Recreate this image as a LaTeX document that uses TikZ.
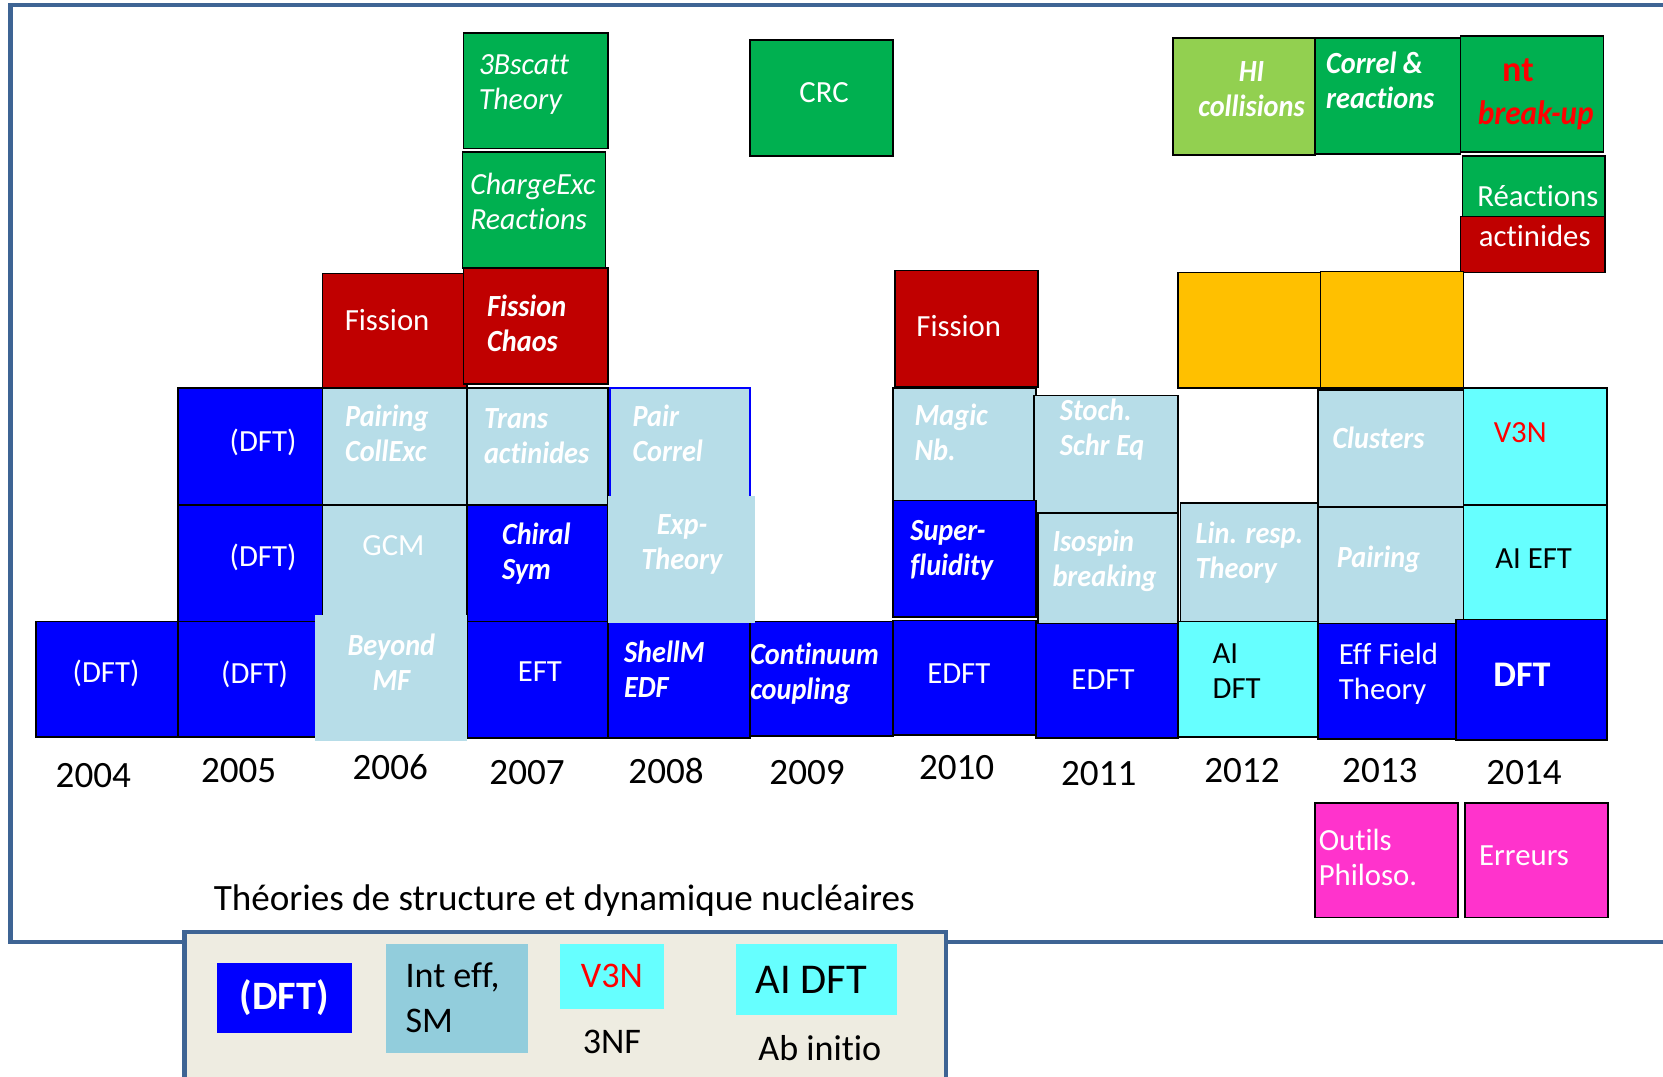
\documentclass[tikz,border=0pt]{standalone}
\usepackage{fontspec}
\setmainfont{Carlito}[Ligatures=NoCommon]
\newfontfamily\bifont{Carlito}[Ligatures=NoCommon, FakeStretch=0.92]
\newfontfamily\itfont{Carlito}[Ligatures=NoCommon, FakeStretch=0.97]
\definecolor{cblue}{HTML}{0000FF}
\definecolor{clb}{HTML}{B7DDE8}
\definecolor{clb2}{HTML}{92CDDC}
\definecolor{ccy}{HTML}{66FFFF}
\definecolor{cred}{HTML}{C00000}
\definecolor{cgreen}{HTML}{00B050}
\definecolor{clgreen}{HTML}{92D050}
\definecolor{corange}{HTML}{FFC000}
\definecolor{cpink}{HTML}{FF33CC}
\definecolor{cframe}{HTML}{3E6494}
\definecolor{clegend}{HTML}{EEECE1}
\definecolor{cred2}{HTML}{FF0000}
\newcommand\boxcell[6]{%
  \pgfmathsetmacro\bcw{(#4-#2)*0.5}%
  \pgfmathsetmacro\bch{(#5-#3)*0.5}%
  \node[#6, minimum width=\bcw pt, minimum height=\bch pt, anchor=north west] (#1) at (#2,#3) {};}
\tikzset{
  box/.style={draw=black, line width=0.8pt, inner sep=0pt, outer sep=0pt},
  nob/.style={draw=none, inner sep=0pt, outer sep=0pt},
  bl/.style={box, fill=cblue},
  lb/.style={box, fill=clb},
  lbn/.style={nob, fill=clb},
  cy/.style={box, fill=ccy},
  rd/.style={box, fill=cred},
  gr/.style={box, fill=cgreen},
  lg/.style={box, fill=clgreen},
  og/.style={box, fill=corange},
  pk/.style={box, fill=cpink},
  tx/.style={inner sep=0pt, text=white, font=\fontsize{14.5}{16.5}\selectfont, align=left},
  txbi/.style={tx, font=\fontsize{14.5}{16.5}\selectfont\bifont\bfseries\itshape},
  txit/.style={tx, font=\fontsize{14.5}{16.5}\selectfont\itfont\itshape},
  yr/.style={inner sep=0pt, font=\fontsize{17.5}{20}\selectfont},
  lgt/.style={inner sep=0pt, font=\fontsize{17}{21}\selectfont, align=left},
}
\begin{document}
\begin{tikzpicture}[x=0.5pt, y=-0.5pt]
\useasboundingbox (0,0) rectangle (1568,1015);
\fill[white] (0,0) rectangle (1568,1015);
% outer frame
\draw[cframe, line width=2pt] (10,5) rectangle (1640,888);
% top row
\boxcell{bsc}{437}{31}{573}{140}{gr}
\boxcell{crc}{707}{38}{842}{147}{gr}
\boxcell{hic}{1106}{36}{1240}{146}{lg}
\boxcell{cor}{1240}{36}{1377}{145}{gr}
\boxcell{ntb}{1377}{34}{1512}{143}{gr}
% row 5
\boxcell{chx}{436}{143}{571}{253}{gr}
\boxcell{rea}{1379}{147}{1513}{204}{gr}
\boxcell{act}{1377}{204}{1513}{257}{rd}
% row 4
\boxcell{fis6}{304}{258}{440}{366}{rd}
\boxcell{fch}{437}{253}{573}{362}{rd}
\boxcell{fis10}{844}{255}{979}{365}{rd}
\boxcell{or12}{1111}{257}{1245}{366}{og}
\boxcell{or13}{1245}{256}{1380}{366}{og}
% row 3
\boxcell{d53}{168}{366}{304}{476}{bl}
\boxcell{pce}{304}{366}{440}{476}{lb}
\boxcell{tra}{440}{366}{573}{476}{lb}
\boxcell{pco}{575}{366}{707}{468}{lb, draw=cblue}
\boxcell{mag}{842}{366}{977}{472}{lb}
\boxcell{sto}{975}{373}{1111}{484}{lb}
\boxcell{clu}{1243}{368}{1380}{478}{lb}
\boxcell{v3n}{1380}{366}{1515}{476}{cy}
% row 2
\boxcell{d52}{168}{476}{304}{586}{bl}
\boxcell{gcm}{304}{476}{440}{586}{lb}
\boxcell{chi}{440}{476}{573}{586}{bl}
\boxcell{sup}{842}{472}{977}{582}{bl}
\boxcell{iso}{979}{484}{1111}{588}{lb}
\boxcell{lin}{1113}{474}{1243}{586}{lb}
\boxcell{pai}{1243}{478}{1380}{588}{lb}
\boxcell{aie}{1380}{476}{1515}{584}{cy}
% row 1
\boxcell{d41}{34}{586}{168}{695}{bl}
\boxcell{d51}{168}{586}{304}{695}{bl}
\boxcell{eft}{440}{586}{573}{696}{bl}
\boxcell{she}{573}{586}{707}{696}{bl}
\boxcell{con}{707}{586}{842}{694}{bl}
\boxcell{edf10}{842}{585}{977}{693}{bl}
\boxcell{edf11}{977}{588}{1111}{696}{bl}
\boxcell{aid}{1111}{586}{1243}{695}{cy}
\boxcell{efft}{1243}{588}{1373}{697}{bl}
\boxcell{dft}{1373}{584}{1515}{698}{bl}
% overlays without border
\boxcell{bey}{297}{580}{440}{699}{lbn}
\boxcell{exp}{573}{468}{712}{587}{lbn}
% pink
\boxcell{out}{1240}{757}{1375}{865}{pk}
\boxcell{err}{1381}{757}{1516}{865}{pk}
% texts
\node[txit, anchor=west] (tbsc) at (451,80) {3Bscatt\\Theory};
\node[tx] (tcrc) at (777,87) {CRC};
\node[txbi, align=center] (thic) at (1180,84) {HI\\collisions};
\node[txbi, anchor=west] (tcor) at (1250,76) {Correl \&\\reactions};
\node[inner sep=0pt, text=cred2, font=\fontsize{17}{20}\selectfont\bfseries, anchor=west] (tnt) at (1416,66) {nt};
\node[inner sep=0pt, text=cred2, font=\fontsize{16}{18}\selectfont\bifont\bfseries\itshape, anchor=west] (tbrk) at (1393,109) {break-up};
\node[txit, anchor=west] (tchx) at (443,190) {ChargeExc\\Reactions};
\node[tx] (trea) at (1450,185) {Réactions};
\node[tx] (tact) at (1447,222) {actinides};
\node[tx] (tfis6) at (365,302) {Fission};
\node[txbi, anchor=west] (tfch) at (459,305) {Fission\\Chaos};
\node[tx] (tfis10) at (904,307) {Fission};
\node[tx] (td53) at (248,417) {(DFT)};
\node[txbi, anchor=west] (tpce) at (325,409) {Pairing\\CollExc};
\node[txbi, anchor=west] (ttra) at (456,411) {Trans\\actinides};
\node[txbi, anchor=west] (tpco) at (596,409) {Pair\\Correl};
\node[txbi, anchor=west] (tmag) at (862,408) {Magic\\Nb.};
\node[txbi, anchor=west] (tsto) at (999,405) {Stoch.\\Schr Eq};
\node[txbi, anchor=west] (tclu) at (1256,413) {Clusters};
\node[tx, text=cred2, anchor=west] (tv3n) at (1408,408) {V3N};
\node[tx] (td52) at (248,526) {(DFT)};
\node[tx] (tgcm) at (371,514) {GCM};
\node[txbi, anchor=west] (tchi) at (473,522) {Chiral\\Sym};
\node[txbi, align=center] (texp) at (643,513) {Exp-\\Theory};
\node[txbi, anchor=west] (tsup) at (858,519) {Super-\\fluidity};
\node[txbi, anchor=west] (tiso) at (992,529) {Isospin\\breaking};
\node[txbi, anchor=west] (tlin) at (1127,521) {Lin. resp.\\Theory};
\node[txbi, anchor=west] (tpai) at (1260,527) {Pairing};
\node[tx, text=black] (taie) at (1446,527) {AI EFT};
\node[tx] (td41) at (100,635) {(DFT)};
\node[tx] (td51) at (240,636) {(DFT)};
\node[txbi, align=center] (tbey) at (369,624) {Beyond\\MF};
\node[tx] (teft) at (509,633) {EFT};
\node[txbi, anchor=west] (tshe) at (588,631) {ShellM\\EDF};
\node[txbi, anchor=west] (tcon) at (707,635) {Continuum\\coupling};
\node[tx] (tedf10) at (904,635) {EDFT};
\node[tx] (tedf11) at (1040,641) {EDFT};
\node[tx, text=black, anchor=west] (taid) at (1143,633) {AI\\DFT};
\node[tx, anchor=west] (tefft) at (1262,635) {Eff Field\\Theory};
\node[inner sep=0pt, text=white, font=\fontsize{17}{20}\selectfont\bfseries] (tdft) at (1435,636) {DFT};
\node[tx, anchor=west] (tout) at (1243,808) {Outils\\Philoso.};
\node[tx] (terr) at (1437,807) {Erreurs};
% years
\node[yr] (y04) at (88,731) {2004};
\node[yr] (y05) at (225,727) {2005};
\node[yr] (y06) at (368,723) {2006};
\node[yr] (y07) at (497,728) {2007};
\node[yr] (y08) at (628,727) {2008};
\node[yr] (y09) at (761,728) {2009};
\node[yr] (y10) at (902,724) {2010};
\node[yr] (y11) at (1036,729) {2011};
\node[yr] (y12) at (1171,727) {2012};
\node[yr] (y13) at (1301,727) {2013};
\node[yr] (y14) at (1437,728) {2014};
% title
\node[yr] (title) at (532,849) {Théories de structure et dynamique nucléaires};
% legend
\boxcell{legend}{172}{877}{890}{1040}{draw=cframe, line width=2pt, fill=clegend, inner sep=0pt}
\boxcell{lgdft}{205}{908}{332}{974}{nob, fill=cblue}
\boxcell{lgint}{364}{890}{498}{993}{nob, fill=clb2}
\boxcell{lgv3n}{528}{890}{626}{951}{nob, fill=ccy}
\boxcell{lgai}{694}{890}{846}{957}{nob, fill=ccy}
\node[inner sep=0pt, text=white, font=\fontsize{19}{22}\selectfont\bfseries] (tlgdft) at (268,941) {(DFT)};
\node[lgt, anchor=west] (tlgint) at (382,941) {Int eff,\\SM};
\node[lgt, text=cred2] (tlgv3n) at (577,920) {V3N};
\node[lgt] (tlg3nf) at (577,982) {3NF};
\node[inner sep=0pt, font=\fontsize{20}{24}\selectfont] (tlgai) at (765,924) {AI DFT};
\node[lgt] (tlgab) at (773,988) {Ab initio};
\end{tikzpicture}
\end{document}
